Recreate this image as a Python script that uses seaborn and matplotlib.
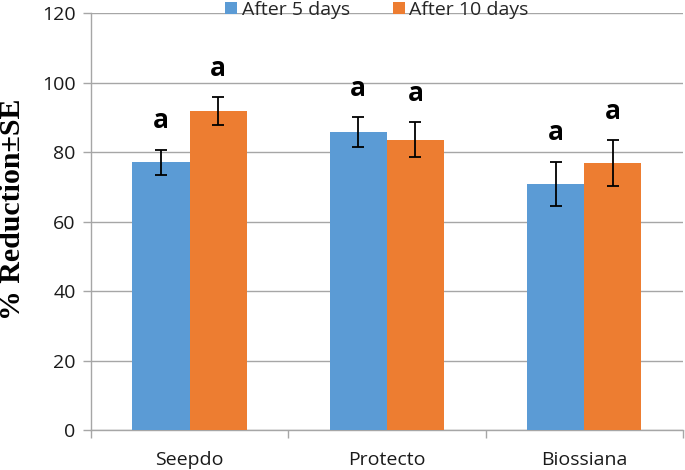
import matplotlib
matplotlib.use("Agg")
import matplotlib.pyplot as plt
import seaborn as sns
import pandas as pd
import numpy as np
from matplotlib.patches import Patch

products = ["Seepdo", "Protecto", "Biossiana"]
series = ["After 5 days", "After 10 days"]
after5 = [77.0, 85.7, 70.8]
after10 = [91.8, 83.6, 76.8]
se5 = [3.7, 4.3, 6.4]
se10 = [4.0, 4.9, 6.6]
letters5 = ["a", "a", "a"]
letters10 = ["a", "a", "a"]
yticks = [0, 20, 40, 60, 80, 100, 120]

colors = ["#5B9BD5", "#ED7D31"]
grid_col = "#a6a6a6"

df = pd.DataFrame({
    "Product": products * 2,
    "Series": [series[0]] * 3 + [series[1]] * 3,
    "Value": after5 + after10,
})

sns.set_theme(style="white")
plt.rcParams["font.family"] = ["Open Sans", "DejaVu Sans"]

fig = plt.figure(figsize=(6.85, 4.7), dpi=100)
ax = fig.add_axes([0.1328, 0.0851, 0.864, 0.8872])

sns.barplot(data=df, x="Product", y="Value", hue="Series", order=products,
            hue_order=series, palette=colors, saturation=1, width=0.58, gap=0,
            errorbar=None, linewidth=0, legend=False, ax=ax, zorder=3)

ses = [se5, se10]
lets = [letters5, letters10]
bar_groups = [list(c) for c in ax.containers]
for i, cont in enumerate(bar_groups):
    for j, bar in enumerate(cont):
        xc = bar.get_x() + bar.get_width() / 2
        h = bar.get_height()
        ax.errorbar(xc, h, yerr=ses[i][j], color="black", lw=1.3,
                    capsize=4.5, capthick=1.3, zorder=4)
        ax.text(xc, h + ses[i][j] + 8.3, lets[i][j], ha="center", va="center",
                fontsize=19, fontweight="bold", color="black", zorder=5)

ax.set_ylim(0, 120)
ax.set_xlim(-0.5, 2.5)
ax.set_yticks(yticks)
ax.set_yticklabels([str(t) for t in yticks], fontsize=14, color="#1a1a1a")
ax.set_xticks(range(3))
ax.set_xticklabels(products, fontsize=14, color="#1a1a1a")
ax.set_xticks([-0.5, 0.5, 1.5, 2.5], minor=True)
ax.tick_params(axis="x", which="major", length=0, pad=15)
ax.tick_params(axis="x", which="minor", length=6, width=1, color=grid_col, direction="out", bottom=True)
ax.tick_params(axis="y", length=6, width=1, color=grid_col, direction="out", left=True, pad=5)

ax.grid(axis="y", color=grid_col, lw=1, zorder=0)
ax.set_axisbelow(True)
for s in ["top", "right"]:
    ax.spines[s].set_visible(False)
for s in ["left", "bottom"]:
    ax.spines[s].set_color(grid_col)
    ax.spines[s].set_linewidth(1)

ax.set_xlabel("")
ax.set_ylabel("")
fig.text(13 / 685, 1 - 209 / 470, "% Reduction±SE", rotation=90, ha="center", va="center",
         fontsize=21.5, fontweight="bold", family=["Liberation Serif", "DejaVu Serif"],
         color="black")

handles = [Patch(facecolor=c, edgecolor="none") for c in colors]
fig.legend(handles, series, loc="center", bbox_to_anchor=(0.55, 0.979), ncol=2,
           frameon=False, fontsize=14, handlelength=0.62, handleheight=0.62,
           handletextpad=0.25, columnspacing=2.2, borderpad=0)

fig.savefig("out.png", dpi=100)
